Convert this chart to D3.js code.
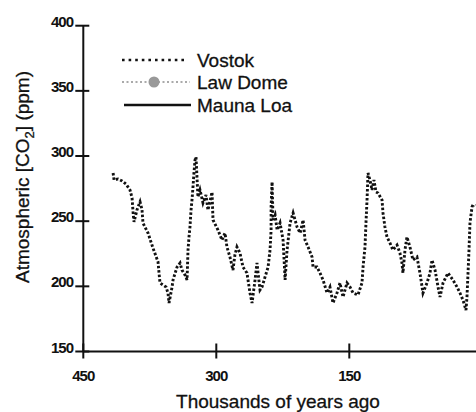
<!DOCTYPE html>
<html>
<head>
<meta charset="utf-8">
<script src="https://cdn.jsdelivr.net/npm/d3@7"></script>
<style>
  html, body { margin: 0; padding: 0; background: #fff; overflow: hidden; }
  svg { display: block; font-family: "Liberation Sans", Arial, sans-serif; }
</style>
</head>
<body>
<svg id="chart"></svg>
<script>
// Vostok ice core: age in thousands of years ago, CO2 in ppm
const vostokAge = [416.4, 415.3, 410.8, 406.3, 401.8, 397.3, 395.0, 393.9, 392.8, 389.4,
    386.0, 383.8, 382.7, 377.0, 371.4, 365.7, 364.6, 363.5, 360.1, 356.7,
    354.5, 353.3, 349.9, 348.8, 344.3, 340.9, 338.7, 335.3, 333.0, 331.9,
    330.8, 329.7, 328.5, 327.4, 326.3, 325.2, 324.0, 322.9, 320.7, 318.4,
    315.0, 311.6, 309.4, 304.8, 303.7, 298.1, 293.6, 290.2, 288.0, 284.6,
    281.2, 279.0, 276.7, 273.3, 269.9, 265.4, 262.0, 259.7, 256.3, 254.1,
    252.9, 250.7, 248.4, 245.0, 241.6, 239.4, 238.2, 238.2, 237.1, 236.0,
    233.7, 231.4, 228.1, 224.7, 222.4, 220.2, 216.8, 213.4, 208.9, 205.5,
    202.1, 199.9, 196.5, 192.0, 190.9, 186.4, 183.0, 179.6, 175.1, 171.8,
    168.4, 163.9, 160.5, 157.1, 152.6, 149.2, 145.8, 140.2, 135.7, 134.5,
    132.3, 131.2, 130.0, 128.9, 126.7, 124.4, 122.2, 119.9, 117.6, 113.1,
    112.0, 109.8, 107.5, 104.1, 100.8, 96.2, 92.9, 90.6, 89.5, 87.2,
    85.0, 81.6, 78.2, 73.7, 70.3, 66.9, 62.4, 59.0, 56.7, 53.3,
    49.9, 47.7, 44.3, 38.7, 33.1, 28.5, 25.2, 21.8, 18.4, 17.3,
    16.1, 15.0, 13.9, 11.6, 10.5, 8.0];
const vostokCO2 = [287.0, 281.6, 282.4, 280.9, 278.5, 273.9, 267.8, 257.1, 249.4, 258.8,
    264.9, 258.8, 248.6, 240.9, 229.4, 218.7, 210.2, 202.6, 201.0, 199.5,
    194.9, 187.2, 199.5, 204.9, 214.8, 217.9, 212.5, 208.7, 204.9, 227.9,
    237.9, 245.5, 258.5, 266.3, 276.2, 287.0, 297.0, 299.3, 268.6, 274.0,
    264.0, 270.1, 258.5, 272.3, 250.9, 243.2, 235.5, 240.9, 230.2, 222.5,
    212.5, 224.1, 230.2, 225.6, 214.8, 210.2, 194.9, 187.2, 204.9, 217.9,
    210.2, 197.2, 199.5, 207.2, 214.8, 227.9, 243.2, 260.9, 280.1, 250.9,
    254.7, 243.2, 248.6, 235.5, 204.9, 227.9, 248.6, 256.3, 245.5, 240.9,
    250.9, 235.5, 230.2, 222.5, 214.8, 214.8, 210.2, 204.9, 194.9, 199.5,
    187.2, 194.9, 202.6, 191.8, 202.6, 199.5, 194.9, 193.4, 202.6, 214.8,
    230.2, 248.6, 266.3, 287.0, 281.6, 273.9, 281.6, 272.4, 271.6, 266.3,
    256.3, 245.5, 237.9, 233.2, 227.9, 231.7, 225.6, 217.9, 210.2, 227.9,
    237.9, 230.2, 220.2, 222.5, 210.2, 194.9, 202.6, 210.2, 220.2, 212.5,
    199.5, 191.8, 202.6, 210.2, 204.9, 199.5, 194.9, 189.5, 181.8, 191.8,
    210.2, 227.9, 248.6, 260.9, 262.5, 262.0];

const xTicks = [450, 300, 150];
const yTicks = [150, 200, 250, 300, 350, 400];
const legendNames = ["Vostok", "Law Dome", "Mauna Loa"];

const width = 476, height = 412;
const svg = d3.select("#chart").attr("width", width).attr("height", height);

// scales (0 years ago falls just off the right edge, as in the picture)
const x = d3.scaleLinear().domain([450, 0]).range([83.3, 482.3]);
const y = d3.scaleLinear().domain([150, 400]).range([351.5, 25.7]);

// axes
svg.append("line")
    .attr("x1", x(450)).attr("x2", width + 5)
    .attr("y1", y(150)).attr("y2", y(150))
    .attr("stroke", "#111").attr("stroke-width", 2);
svg.append("line")
    .attr("x1", x(450)).attr("x2", x(450))
    .attr("y1", y(400)).attr("y2", y(150))
    .attr("stroke", "#111").attr("stroke-width", 2);

// x ticks cross the axis
svg.selectAll(".xtick").data(xTicks).enter().append("line")
    .attr("x1", d => x(d)).attr("x2", d => x(d))
    .attr("y1", y(150) - 8).attr("y2", y(150) + 7)
    .attr("stroke", "#111").attr("stroke-width", 2);
svg.selectAll(".xlab").data(xTicks).enter().append("text")
    .attr("x", d => x(d)).attr("y", y(150) + 29)
    .attr("text-anchor", "middle")
    .attr("font-size", 15).attr("letter-spacing", -1).attr("font-weight", "bold")
    .attr("fill", "#111")
    .text(d => d);

// y ticks
svg.selectAll(".ytick").data(yTicks).enter().append("line")
    .attr("x1", x(450) - 8).attr("x2", x(450) + 6)
    .attr("y1", d => y(d)).attr("y2", d => y(d))
    .attr("stroke", "#111").attr("stroke-width", 2);
svg.selectAll(".ylab").data(yTicks).enter().append("text")
    .attr("x", 73).attr("y", d => y(d) + 1)
    .attr("text-anchor", "end")
    .attr("font-size", 15).attr("letter-spacing", -1).attr("font-weight", "bold")
    .attr("fill", "#111")
    .text(d => d);

// axis titles
svg.append("text")
    .attr("x", 278).attr("y", 408)
    .attr("text-anchor", "middle")
    .attr("font-size", 19).attr("fill", "#111")
    .attr("stroke", "#111").attr("stroke-width", 0.3)
    .text("Thousands of years ago");

const yTitle = svg.append("text")
    .attr("transform", "translate(29,177) rotate(-90)")
    .attr("text-anchor", "middle")
    .attr("font-size", 19).attr("fill", "#111")
    .attr("stroke", "#111").attr("stroke-width", 0.3);
yTitle.append("tspan").text("Atmospheric [CO");
yTitle.append("tspan").attr("font-size", 13).attr("dy", 5).text("2");
yTitle.append("tspan").attr("dy", -5).text("] (ppm)");

// Vostok series
const vostok = vostokAge.map((a, i) => ({ age: a, co2: vostokCO2[i] }));
svg.append("path")
    .datum(vostok)
    .attr("fill", "none")
    .attr("stroke", "#111")
    .attr("stroke-width", 2.9)
    .attr("stroke-dasharray", "2.5,2")
    .attr("d", d3.line().x(d => x(d.age)).y(d => y(d.co2)));

// legend
const legY = [60, 82, 105];
const leg = svg.append("g");
leg.append("line")
    .attr("x1", 122).attr("x2", 186).attr("y1", legY[0]).attr("y2", legY[0])
    .attr("stroke", "#111").attr("stroke-width", 2.6).attr("stroke-dasharray", "2.6,4");
leg.append("line")
    .attr("x1", 122).attr("x2", 190).attr("y1", legY[1]).attr("y2", legY[1])
    .attr("stroke", "#aaa").attr("stroke-width", 1.8).attr("stroke-dasharray", "2,2.5");
leg.append("circle")
    .attr("cx", 154).attr("cy", legY[1]).attr("r", 5.5).attr("fill", "#999");
leg.append("line")
    .attr("x1", 124).attr("x2", 191).attr("y1", legY[2]).attr("y2", legY[2])
    .attr("stroke", "#111").attr("stroke-width", 2.6);
leg.selectAll("text").data(legendNames).enter().append("text")
    .attr("x", 197).attr("y", (d, i) => legY[i] + 7)
    .attr("font-size", 19).attr("fill", "#111")
    .attr("stroke", "#111").attr("stroke-width", 0.3)
    .text(d => d);
</script>
</body>
</html>
